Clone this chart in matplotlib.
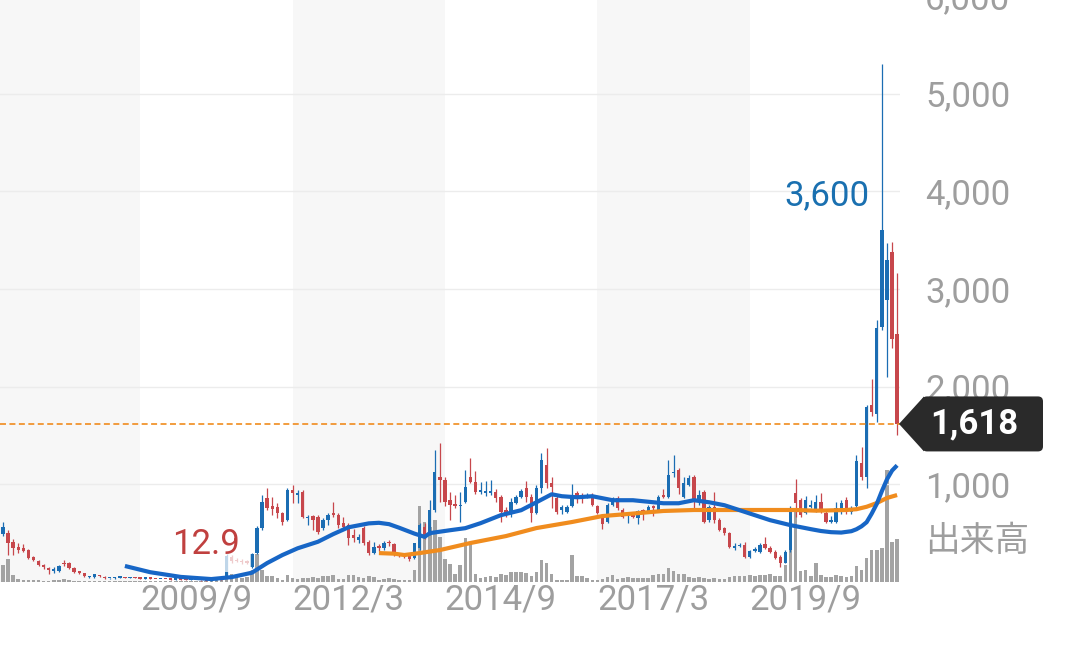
import numpy as np
import matplotlib
matplotlib.use("Agg")
import matplotlib.pyplot as plt
from matplotlib.patches import Polygon, FancyBboxPatch

plt.rcParams['font.family'] = ['Roboto', 'Noto Sans CJK JP', 'DejaVu Sans']
plt.rcParams['lines.scale_dashes'] = False

# monthly candles, first month = 2006/7, last = 2021/3
start_year, start_month = 2006, 7

opens = [490, 500, 408, 357, 347, 327, 255, 214, 173, 143,
         112, 112, 194, 194, 143, 112, 92, 51, 51, 71,
         56, 36, 38, 42, 47, 41, 45, 38, 34, 38,
         32, 29, 33, 28, 25, 28, 24, 21, 24, 19,
         17, 15, 19, 26, 60, 260, 230, 220, 215, 150,
         296, 551, 857, 776, 765, 704, 633, 939, 888, 918,
         653, 673, 663, 551, 633, 704, 684, 602, 582, 480,
         429, 551, 408, 296, 367, 347, 408, 388, 286, 275,
         265, 245, 347, 561, 500, 735, 1071, 1041, 837, 796,
         776, 816, 1071, 1020, 918, 908, 908, 918, 867, 735,
         704, 806, 867, 959, 867, 704, 959, 1194, 1010, 857,
         735, 720, 776, 908, 888, 867, 867, 776, 680, 612,
         786, 857, 735, 684, 694, 653, 735, 714, 776, 735,
         888, 867, 1112, 1143, 867, 990, 1071, 837, 918, 633,
         765, 633, 551, 500, 347, 367, 378, 255, 316, 306,
         388, 347, 306, 255, 194, 327, 908, 837, 704, 765,
         714, 816, 704, 612, 612, 714, 837, 714, 776, 1214,
         1071, 1816, 1724, 2612, 2888, 3378, 2541]

highs = [612, 530, 440, 398, 388, 337, 265, 224, 184, 153,
         153, 178, 224, 204, 153, 117, 97, 66, 87, 76,
         61, 46, 47, 50, 50, 48, 47, 40, 40, 39,
         34, 35, 34, 30, 30, 29, 26, 26, 25, 21,
         18, 20, 28, 30, 290, 275, 250, 235, 225, 300,
         570, 888, 959, 867, 806, 714, 959, 990, 939, 939,
         684, 684, 684, 653, 704, 816, 704, 663, 602, 541,
         490, 571, 429, 408, 388, 418, 429, 398, 296, 286,
         275, 400, 602, 602, 837, 1347, 1418, 1071, 918, 888,
         918, 1143, 1265, 1133, 1020, 1030, 1040, 949, 888, 765,
         857, 888, 949, 1030, 898, 990, 1316, 1367, 1071, 888,
         786, 786, 1000, 929, 908, 908, 908, 786, 700, 806,
         867, 878, 755, 704, 714, 735, 745, 786, 786, 888,
         949, 1245, 1296, 1163, 1071, 1092, 1092, 939, 939, 786,
         918, 653, 561, 510, 398, 398, 408, 327, 357, 398,
         460, 367, 327, 275, 327, 775, 1051, 857, 878, 837,
         888, 908, 735, 673, 816, 837, 867, 776, 1296, 1378,
         1816, 2082, 2684, 5300, 3470, 3480, 3163]

lows = [469, 275, 280, 296, 306, 235, 215, 163, 133, 82,
        92, 102, 163, 133, 97, 87, 56, 46, 46, 56,
        31, 31, 34, 38, 38, 37, 36, 32, 32, 30,
        27, 28, 26, 23, 24, 22, 19, 20, 17, 15,
        12.9, 14, 18, 21, 40, 190, 200, 180, 180, 140,
        290, 530, 735, 684, 653, 582, 622, 806, 806, 653,
        582, 531, 490, 531, 582, 663, 551, 541, 378, 408,
        398, 378, 275, 286, 316, 327, 367, 265, 255, 245,
        214, 235, 327, 439, 480, 714, 816, 776, 633, 755,
        612, 806, 1010, 898, 898, 880, 890, 816, 612, 663,
        663, 796, 857, 816, 612, 694, 908, 959, 755, 694,
        694, 704, 765, 806, 806, 857, 776, 694, 540, 602,
        776, 735, 653, 602, 653, 592, 633, 704, 673, 725,
        857, 857, 1071, 898, 857, 980, 735, 786, 602, 612,
        602, 520, 480, 347, 327, 357, 245, 245, 306, 296,
        337, 296, 235, 153, 194, 306, 663, 663, 694, 755,
        714, 704, 602, 602, 602, 694, 694, 694, 755, 1041,
        959, 1704, 1633, 2580, 2100, 2390, 1500]

closes = [561, 398, 347, 327, 316, 245, 224, 173, 153, 122,
          133, 168, 184, 143, 102, 92, 61, 61, 82, 61,
          36, 41, 44, 47, 41, 45, 38, 34, 38, 32,
          29, 33, 28, 25, 28, 24, 21, 24, 19, 17,
          15, 19, 26, 23, 270, 215, 215, 205, 195, 290,
          551, 816, 755, 745, 704, 612, 939, 908, 908, 663,
          663, 633, 510, 633, 684, 684, 582, 561, 449, 449,
          459, 398, 296, 357, 347, 398, 398, 275, 265, 255,
          235, 398, 582, 459, 735, 1122, 1041, 816, 786, 776,
          786, 969, 1020, 918, 939, 929, 929, 857, 714, 704,
          816, 867, 929, 867, 704, 959, 1245, 1010, 969, 714,
          765, 765, 888, 857, 867, 888, 786, 704, 590, 786,
          857, 755, 663, 694, 663, 725, 720, 765, 755, 867,
          867, 1092, 1122, 959, 1010, 1061, 837, 888, 612, 765,
          633, 531, 500, 357, 367, 377, 255, 316, 337, 378,
          347, 306, 245, 194, 306, 755, 806, 684, 837, 786,
          816, 735, 612, 633, 755, 806, 755, 755, 1235, 1071,
          1796, 1745, 2602, 3600, 3296, 2490, 1618]

# volume, relative units
volumes = [17, 23, 7, 3, 2, 1.5, 1.5, 1.5, 1, 1,
           1.5, 2, 3, 2, 1, 1, 1, 1, 1.2, 1,
           1, 1, 0.8, 1, 0.8, 1.2, 0.8, 1, 0.8, 1,
           0.8, 1, 0.8, 1, 1.2, 0.8, 1, 0.8, 1, 1.2,
           1, 1.5, 2, 1.5, 8, 8, 5, 4, 5, 12,
           28, 12, 6, 6, 4, 2, 7, 4, 3, 4,
           4, 5, 4, 6, 6, 7, 3, 3, 7, 7,
           5, 4, 6, 5, 2, 3, 4, 3, 2, 2,
           2, 12, 76, 60, 55, 62, 45, 23, 18, 8,
           17, 44, 38, 8, 4, 5, 6, 5, 8, 7,
           10, 10, 10, 9, 6, 10, 22, 19, 8, 2,
           2, 2, 27, 6, 6, 4, 2, 2, 3, 5,
           7, 3, 4, 5, 4, 4, 4, 4, 7, 8,
           8, 14, 11, 8, 8, 5, 4, 5, 4, 3,
           4, 3, 3, 5, 6, 6, 6, 7, 6, 7,
           7, 8, 6, 6, 17, 32, 73, 11, 12, 6,
           19, 7, 5, 5, 7, 6, 5, 6, 16, 12,
           24, 32, 32, 34, 112, 40, 43]

# moving averages (month index, price)
ma_short_idx = [24, 29, 35, 41, 45, 49, 52, 55, 58, 62, 65, 68, 72, 74, 76, 78,
                81, 83, 84, 88, 91, 94, 98, 102, 105, 108, 110, 113, 116, 120,
                124, 130, 133, 136, 139, 142, 145, 148, 151, 155, 159, 161, 163,
                165, 167, 168, 169, 170, 171, 172, 173, 174, 175, 176]
ma_short = [164, 100, 52, 30, 50, 95, 194, 276, 345, 412, 490, 560, 600, 606, 592, 555,
            495, 462, 500, 530, 551, 602, 684, 735, 816, 898, 878, 867, 878, 837,
            837, 806, 806, 837, 816, 786, 735, 684, 633, 582, 541, 522, 510,
            506, 520, 540, 570, 612, 700, 800, 930, 1050, 1140, 1194]
ma_long_idx = [74, 77, 79, 82, 86, 92, 99, 105, 112, 118, 123, 130, 136, 143, 149,
               156, 160, 166, 168, 170, 172, 174, 176]
ma_long = [296, 290, 276, 296, 327, 399, 470, 552, 614, 675, 696, 727, 737, 737, 737,
           737, 730, 737, 745, 770, 808, 860, 890]

x_labels = ['2009/9', '2012/3', '2014/9', '2017/3', '2019/9']
price_ticks = [1000, 2000, 3000, 4000, 5000, 6000]
last_price = 1618
high_label = '3,600'
low_label = '12.9'

assert len(opens) == len(highs) == len(lows) == len(closes) == len(volumes)

UP = '#1b6db3'
DOWN = '#c7474c'
GRAY_TXT = '#9e9e9e'

o = np.array(opens, float)
h = np.array(highs, float)
l = np.array(lows, float)
c = np.array(closes, float)
v = np.array(volumes, float)
idx = np.arange(len(o))
cols = np.where(c >= o, UP, DOWN)


def month_index(label):
    y, m = label.split('/')
    return (int(y) - start_year) * 12 + int(m) - start_month


fig = plt.figure(figsize=(10.8, 6.46), dpi=100)
ax = fig.add_axes([0, 64 / 646, 900 / 1080, 586.2 / 646])
axv = ax.twinx()
ax.set_zorder(axv.get_zorder() + 1)
ax.patch.set_visible(False)

# alternating bands every 30 months
for s in range(-3, len(o), 60):
    axv.axvspan(s - 30 if s < 0 else s, s + 30, color='#f7f7f7', lw=0, zorder=0)

# volume
axv.bar(idx, v, width=0.7, color='#a3a3a3', lw=0, zorder=1)
axv.set_ylim(0, v.max() * 5.23)
axv.set_yticks([])

# candles
ax.vlines(idx, l, h, colors=cols, lw=0.9, zorder=3)
body = np.maximum(np.abs(c - o), 15)
ax.bar(idx, body, bottom=np.minimum(o, c), width=0.66, color=cols, lw=0, zorder=3)

# moving averages
ax.plot(ma_long_idx, ma_long, color='#f08c1e', lw=3.0, zorder=5,
        solid_joinstyle='round', solid_capstyle='butt')
ax.plot(ma_short_idx, ma_short, color='#1766c6', lw=3.0, zorder=5,
        solid_joinstyle='round', solid_capstyle='butt')

ax.axhline(last_price, color='#f08c1e', lw=1.2, dashes=(4.3, 2.5), zorder=6)

# high / low labels
ax.annotate(high_label, xy=(173, 3600), xytext=(-12, 35), textcoords='offset pixels',
            ha='right', va='center', fontsize=25, color='#1a70b0', zorder=7)
lo_i = int(np.argmin(l))
ax.annotate(low_label, xy=(lo_i, l[lo_i]), xytext=(0, 36), textcoords='offset pixels',
            ha='center', va='center', fontsize=25, color='#c0403f', zorder=4,
            bbox=dict(boxstyle='square,pad=0.32', fc='white', ec='none', alpha=0.72))

ax.set_xlim(-0.59, 176.57)
ax.set_ylim(0, 6000)
ax.set_yticks(price_ticks)
ax.set_yticklabels([f'{t:,}' for t in price_ticks])
ax.yaxis.tick_right()
ax.grid(axis='y', color='#ececec', lw=1)
ax.set_axisbelow(True)
ax.tick_params(axis='y', length=0, pad=18, labelsize=25, labelcolor=GRAY_TXT)
ax.set_xticks([month_index(s) for s in x_labels])
ax.set_xticklabels(x_labels)
ax.tick_params(axis='x', length=0, pad=1, labelsize=25, labelcolor=GRAY_TXT)
for a in (ax, axv):
    for sp in a.spines.values():
        sp.set_visible(False)

# price tag for the last close
yc = (64 + last_price / 6000 * 586.2) / 100
tr = fig.dpi_scale_trans
fig.add_artist(Polygon([(8.99, yc), (9.24, yc + 0.275), (9.24, yc - 0.275)],
                       closed=True, fc='#2a2a2a', ec='none', transform=tr, zorder=10))
fig.add_artist(FancyBboxPatch((9.22, yc - 0.275), 1.21, 0.55,
                              boxstyle='round,pad=0,rounding_size=0.05',
                              fc='#2a2a2a', ec='none', transform=tr, zorder=10))
fig.text(9.30, yc, f'{last_price:,}', transform=tr, ha='left', va='center',
         fontsize=25, fontweight='bold', color='white', zorder=11)

fig.text(925 / 1080, (646 - 541) / 646, '出来高', ha='left', va='center', fontsize=25,
         color=GRAY_TXT, family=['Noto Sans CJK JP', 'DejaVu Sans'])

fig.savefig('out.png', dpi=100)
